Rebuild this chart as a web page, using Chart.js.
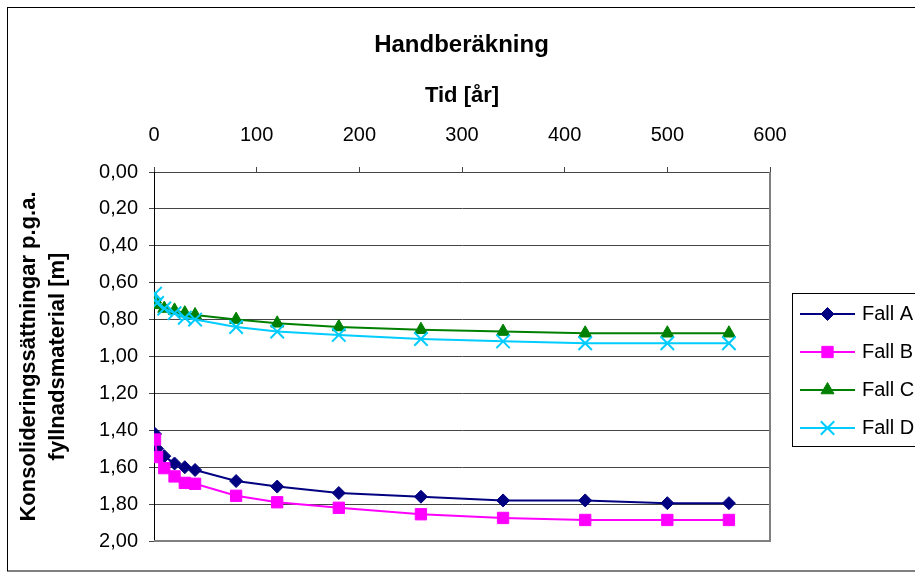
<!DOCTYPE html>
<html>
<head>
<meta charset="utf-8">
<title>Handberäkning</title>
<script src="https://cdn.jsdelivr.net/npm/chart.js@4.4.1/dist/chart.umd.min.js"></script>
<style>
  html, body { margin: 0; padding: 0; background: #fff; }
  canvas { display: block; background: #fff; }
</style>
</head>
<body>
<canvas id="chart" width="915" height="579"></canvas>
<script>
// Tid [år]
const years = [1, 3, 10, 20, 30, 40, 80, 120, 180, 260, 340, 420, 500, 560];

// Konsolideringssättningar [m]
const fallA = [1.42, 1.50, 1.54, 1.58, 1.60, 1.615, 1.675, 1.705, 1.74, 1.76, 1.78, 1.78, 1.795, 1.795];
const fallB = [1.45, 1.545, 1.605, 1.65, 1.685, 1.69, 1.755, 1.79, 1.82, 1.855, 1.875, 1.886, 1.886, 1.886];
const fallC = [0.69, 0.72, 0.74, 0.75, 0.765, 0.775, 0.80, 0.82, 0.84, 0.855, 0.865, 0.874, 0.874, 0.874];
const fallD = [0.66, 0.71, 0.74, 0.765, 0.79, 0.80, 0.84, 0.865, 0.883, 0.905, 0.918, 0.928, 0.928, 0.928];

const seriesNames = ['Fall A', 'Fall B', 'Fall C', 'Fall D'];
const xTickLabels = ['0', '100', '200', '300', '400', '500', '600'];
const yTickLabels = ['0,00', '0,20', '0,40', '0,60', '0,80', '1,00', '1,20', '1,40', '1,60', '1,80', '2,00'];

Chart.defaults.font.family = "Arial, 'Liberation Sans', sans-serif";
Chart.defaults.color = '#000';

function toPoints(values) {
    return years.map((t, i) => ({ x: t, y: values[i] }));
}

function series(label, values, color, style, radius, pointWidth, order) {
    return {
        label: label,
        data: toPoints(values),
        borderColor: color,
        backgroundColor: color,
        borderWidth: 2,
        pointStyle: style,
        pointRadius: radius,
        pointBorderWidth: pointWidth,
        pointBackgroundColor: color,
        pointBorderColor: color,
        tension: 0,
        order: order
    };
}

const datasets = [
    series(seriesNames[0], fallA, '#000080', 'rectRot', 6.5, 1, 3),
    series(seriesNames[1], fallB, '#FF00FF', 'rect', 8, 1, 2),
    series(seriesNames[2], fallC, '#008000', 'triangle', 7.5, 1, 1),
    series(seriesNames[3], fallD, '#00CCFF', 'crossRot', 9.5, 2, 0)
];

// legend symbol: line with marker in the middle
function legendIcon(ds) {
    const c = document.createElement('canvas');
    c.width = 82;
    c.height = 20;
    const g = c.getContext('2d');
    g.strokeStyle = ds.borderColor;
    g.lineWidth = 2;
    g.beginPath();
    g.moveTo(21, 10);
    g.lineTo(76, 10);
    g.stroke();
    g.fillStyle = ds.pointBackgroundColor;
    g.strokeStyle = ds.pointBorderColor;
    g.lineWidth = ds.pointBorderWidth;
    Chart.helpers.drawPoint(g, {
        pointStyle: ds.pointStyle,
        radius: ds.pointRadius,
        borderWidth: ds.pointBorderWidth,
        rotation: 0
    }, 48.5, 10);
    return c;
}

const frames = {
    id: 'frames',
    beforeDatasetsDraw(chart) {
        const { ctx, chartArea } = chart;
        ctx.save();
        ctx.strokeStyle = '#808080';
        ctx.lineWidth = 2;
        ctx.beginPath();
        ctx.moveTo(chartArea.right, chartArea.top);
        ctx.lineTo(chartArea.right, chartArea.bottom);
        ctx.lineTo(chartArea.left, chartArea.bottom);
        ctx.stroke();
        ctx.restore();
    },
    afterDraw(chart) {
        const { ctx, chartArea } = chart;
        const boxes = chart.legend.legendHitBoxes;
        const last = boxes[boxes.length - 1];
        ctx.save();
        ctx.strokeStyle = '#000';
        ctx.lineWidth = 1;
        // outer chart frame
        ctx.strokeRect(7.5, 7.5, chart.width, 563.5);
        // legend frame
        const top = boxes[0].top - 10.5;
        const bottom = last.top + last.height + 8.5;
        ctx.strokeRect(chartArea.right + 22.5, top, 200, bottom - top);
        ctx.restore();
    }
};

const ctx = document.getElementById('chart').getContext('2d');
const myChart = new Chart(ctx, {
    type: 'line',
    data: { datasets: datasets },
    plugins: [frames],
    options: {
        responsive: false,
        animation: false,
        layout: { padding: { left: 8, right: 0, top: 0, bottom: 38 } },
        plugins: {
            title: {
                display: true,
                text: 'Handberäkning',
                color: '#000',
                font: { size: 24, weight: 'bold' },
                padding: { top: 30.6, bottom: 0 }
            },
            tooltip: { enabled: false },
            legend: {
                position: 'right',
                align: 'start',
                maxWidth: 145,
                title: {
                    display: true,
                    text: '',
                    font: { size: 10, lineHeight: 1 },
                    padding: { top: 276, bottom: 0 }
                },
                labels: {
                    usePointStyle: true,
                    pointStyleWidth: 64,
                    padding: 18,
                    color: '#000',
                    font: { size: 20 },
                    generateLabels: (chart) => chart.data.datasets.map((ds, i) => ({
                        text: ds.label,
                        pointStyle: legendIcon(ds),
                        fillStyle: ds.borderColor,
                        strokeStyle: ds.borderColor,
                        lineWidth: 0,
                        hidden: false,
                        datasetIndex: i
                    }))
                }
            }
        },
        scales: {
            x: {
                type: 'linear',
                position: 'top',
                min: 0,
                max: 600,
                afterFit: (s) => { s.height = 112.6; },
                ticks: {
                    stepSize: 100,
                    padding: 20,
                    maxRotation: 0,
                    autoSkip: false,
                    color: '#000',
                    font: { size: 20 },
                    callback: (v) => xTickLabels[Math.round(v / 100)]
                },
                grid: { display: true, drawOnChartArea: false, drawTicks: true, tickLength: 5, color: '#444' },
                border: { display: true, color: '#444' },
                title: {
                    display: true,
                    text: 'Tid [år]',
                    color: '#000',
                    font: { size: 22, weight: 'bold' },
                    padding: { top: 23.4, bottom: 0 }
                }
            },
            y: {
                type: 'linear',
                reverse: true,
                min: 0,
                max: 2,
                afterFit: (s) => { s.width = 146; },
                ticks: {
                    stepSize: 0.2,
                    padding: 11,
                    autoSkip: false,
                    color: '#000',
                    font: { size: 20 },
                    callback: (v) => yTickLabels[Math.round(v * 5)]
                },
                grid: { color: '#444', drawTicks: true, tickLength: 5 },
                border: { display: true, color: '#000' },
                title: {
                    display: true,
                    text: ['Konsolideringssättningar p.g.a.', 'fyllnadsmaterial [m]'],
                    color: '#000',
                    font: { size: 22, weight: 'bold', lineHeight: 1.32 },
                    padding: { top: 6.5, bottom: 0 }
                }
            }
        }
    }
});
</script>
</body>
</html>
